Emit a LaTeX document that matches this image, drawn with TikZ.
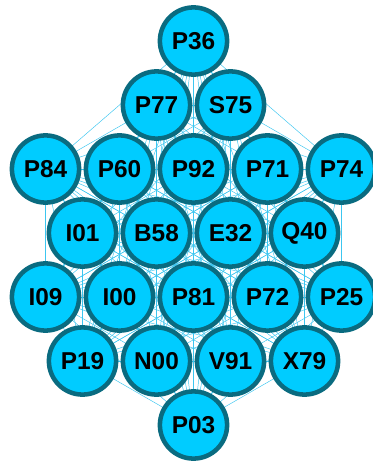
\documentclass[tikz,border=0pt]{standalone}
\usepackage{fontspec}
\setmainfont{Liberation Sans}
\usetikzlibrary{backgrounds}
\usepackage{xcolor}
\definecolor{hubfill}{HTML}{00CCFF}
\definecolor{hubring}{HTML}{0A6B80}
\definecolor{meshline}{HTML}{3CC6F0}

\begin{document}
\begin{tikzpicture}[
    x=0.75pt, y=-0.75pt,
    hub/.style={circle, draw=hubring, fill=hubfill, line width=3.4pt, minimum size=50.4pt, inner sep=0pt, font=\fontsize{18.3}{22}\selectfont\bfseries},
    link/.style={draw=meshline, line width=0.35pt},
]
\useasboundingbox (0,0) rectangle (372,461);

% Row 1
\node[hub] (P36) at (193.5,41) {P36};
% Row 2
\node[hub] (P77) at (156.5,105) {P77};
\node[hub] (S75) at (230.5,105) {S75};
% Row 3
\node[hub] (P84) at (45.5,169) {P84};
\node[hub] (P60) at (119.5,169) {P60};
\node[hub] (P92) at (193.5,169) {P92};
\node[hub] (P71) at (267.5,169) {P71};
\node[hub] (P74) at (341.5,169) {P74};
% Row 4
\node[hub] (I01) at (82.5,233) {I01};
\node[hub] (B58) at (156.5,233) {B58};
\node[hub] (E32) at (230.5,233) {E32};
\node[hub] (Q40) at (304.5,233) {Q40};
% Row 5
\node[hub] (I09) at (45.5,297) {I09};
\node[hub] (I00) at (119.5,297) {I00};
\node[hub] (P81) at (193.5,297) {P81};
\node[hub] (P72) at (267.5,297) {P72};
\node[hub] (P25) at (341.5,297) {P25};
% Row 6
\node[hub] (P19) at (82.5,361) {P19};
\node[hub] (N00) at (156.5,361) {N00};
\node[hub] (V91) at (230.5,361) {V91};
\node[hub] (X79) at (304.5,361) {X79};
% Row 7
\node[hub] (P03) at (193.5,425) {P03};

% Full mesh behind the hubs
\begin{pgfonlayer}{background}
\foreach \a [count=\i] in {P36,P77,S75,P84,P60,P92,P71,P74,I01,B58,E32,Q40,I09,I00,P81,P72,P25,P19,N00,V91,X79,P03}
  \foreach \b [count=\j] in {P36,P77,S75,P84,P60,P92,P71,P74,I01,B58,E32,Q40,I09,I00,P81,P72,P25,P19,N00,V91,X79,P03}
    {\ifnum\j>\i \draw[link] (\a.center) -- (\b.center); \fi}
\end{pgfonlayer}
\end{tikzpicture}
\end{document}
